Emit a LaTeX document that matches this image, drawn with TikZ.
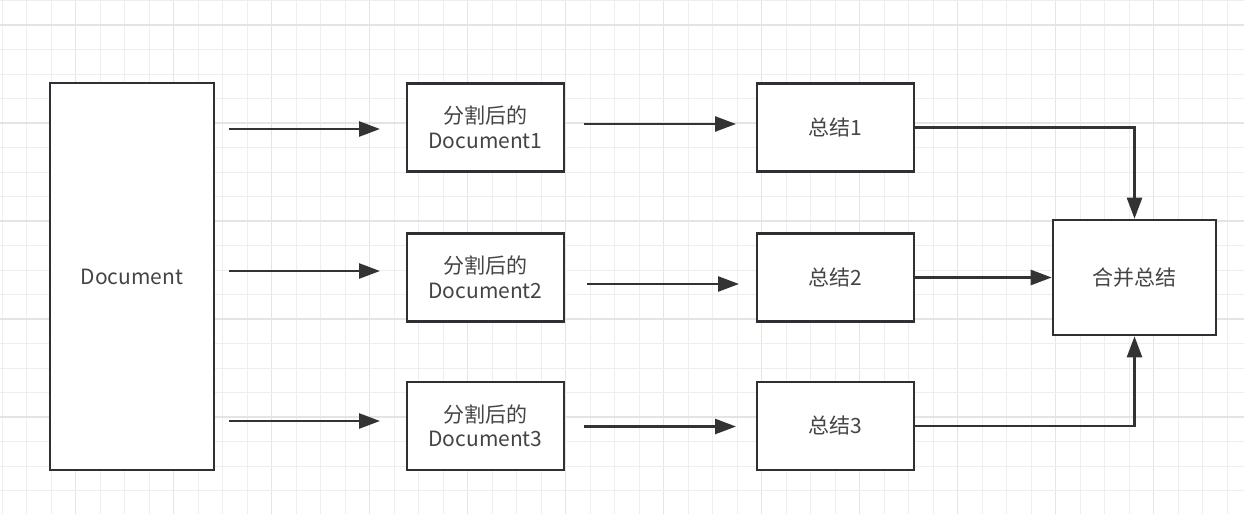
\documentclass[tikz,border=0pt]{standalone}
\usepackage{fontspec}
\setmainfont{Noto Sans CJK SC}
\usetikzlibrary{arrows.meta}
\definecolor{gridminor}{HTML}{EEEEEE}
\definecolor{gridmajor}{HTML}{E4E4E4}
\definecolor{boxline}{HTML}{2D3135}
\definecolor{arrline}{HTML}{333333}
\definecolor{txt}{HTML}{444444}
\tikzset{
  box/.style={draw=boxline, line width=2.6pt, fill=white, rectangle, inner sep=0pt,
    text=txt, align=center, font=\fontsize{21}{24.5}\selectfont},
  conn/.style={draw=arrline, line width=2.6pt, -{Triangle[length=21pt,width=15pt]}},
}
\begin{document}
\begin{tikzpicture}[x=1pt,y=-1pt]
\useasboundingbox (0,0) rectangle (1244,514);
\fill[white] (0,0) rectangle (1244,514);
% grid
\foreach \k in {0,...,50}{
  \pgfmathtruncatemacro{\m}{mod(\k,4)}
  \ifnum\m=3 \draw[gridmajor, line width=1.1pt] ({2+24.5*\k},0) -- ({2+24.5*\k},514);
  \else \draw[gridminor, line width=1pt] ({2+24.5*\k},0) -- ({2+24.5*\k},514); \fi
}
\foreach \k in {0,...,20}{
  \pgfmathtruncatemacro{\m}{mod(\k,4)}
  \ifnum\m=1 \draw[gridmajor, line width=1.1pt] (0,{0.5+24.5*\k}) -- (1244,{0.5+24.5*\k});
  \else \draw[gridminor, line width=1pt] (0,{0.5+24.5*\k}) -- (1244,{0.5+24.5*\k}); \fi
}
% boxes
\node[box, minimum width=164pt, minimum height=387pt] (doc) at (132,276.5) {Document};
\node[box, minimum width=157pt, minimum height=88pt] (d1) at (485.5,127.5) {分割后的\\Document1};
\node[box, minimum width=157pt, minimum height=88pt] (d2) at (485.5,277.5) {分割后的\\Document2};
\node[box, minimum width=157pt, minimum height=88pt] (d3) at (485.5,425.8) {分割后的\\Document3};
\node[box, minimum width=157pt, minimum height=88pt] (s1) at (835.5,127.5) {总结1};
\node[box, minimum width=157pt, minimum height=88pt] (s2) at (835.5,277.5) {总结2};
\node[box, minimum width=157pt, minimum height=88pt] (s3) at (835.5,425.8) {总结3};
\node[box, minimum width=163pt, minimum height=115pt] (m) at (1134.5,277.5) {合并总结};
% free arrow ends
\coordinate (a1s) at (229,129);
\coordinate (a1e) at (380,129);
\coordinate (a2s) at (229,271);
\coordinate (a2e) at (380,271);
\coordinate (a3s) at (229,421);
\coordinate (a3e) at (380,421);
\coordinate (b1s) at (584,124);
\coordinate (b1e) at (736,124);
\coordinate (b2s) at (587,284);
\coordinate (b2e) at (739,284);
\coordinate (b3s) at (584,426.5);
\coordinate (b3e) at (736,426.5);
% connectors
\draw[conn] (a1s) -- (a1e);
\draw[conn] (a2s) -- (a2e);
\draw[conn] (a3s) -- (a3e);
\draw[conn] (b1s) -- (b1e);
\draw[conn] (b2s) -- (b2e);
\draw[conn] (b3s) -- (b3e);
\draw[conn] (s1.east) -| (m.north);
\draw[conn] (s2.east) -- (m.west);
\draw[conn] (s3.east) -| (m.south);
\end{tikzpicture}
\end{document}
